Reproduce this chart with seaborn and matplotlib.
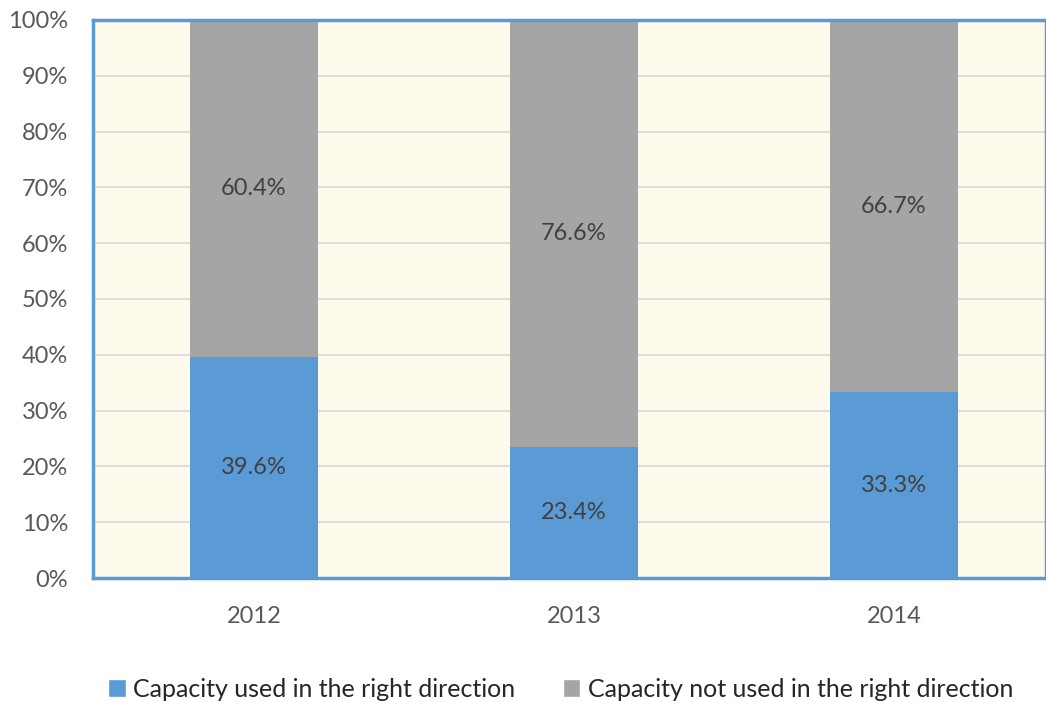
import pandas as pd
import matplotlib.pyplot as plt
import seaborn as sns
import numpy as np
from matplotlib.patches import Patch

# shares of capacity per year (percent)
years = ["2012", "2013", "2014"]
used_right = [39.6, 23.4, 33.3]
not_used_right = [60.4, 76.6, 66.7]

blue = "#5B9BD5"
gray = "#A5A5A5"
cream = "#FFFBEC"

df = pd.DataFrame({"year": years, "used": used_right, "not_used": not_used_right})
df["total"] = df["used"] + df["not_used"]

sns.set_theme(style="white")
plt.rcParams["font.family"] = ["Lato", "DejaVu Sans"]

fig = plt.figure(figsize=(10.46, 7.02), dpi=100)
ax = fig.add_axes([0.089, 0.1766, 0.911, 0.795])
ax.set_facecolor(cream)

# stacked bars: total (gray) underneath, blue part on top of it
sns.barplot(data=df, x="year", y="total", color=gray, width=0.4, saturation=1, linewidth=0, ax=ax, zorder=2)
sns.barplot(data=df, x="year", y="used", color=blue, width=0.4, saturation=1, linewidth=0, ax=ax, zorder=3)

ax.set_xlim(-0.503, 2.475)
ax.set_ylim(0, 100)
ax.set_yticks(np.arange(0, 101, 10))
ax.set_yticklabels([f"{v}%" for v in range(0, 101, 10)])
ax.yaxis.grid(True, color="#D9D9D9", linewidth=1.2, zorder=1)
ax.set_axisbelow(True)
ax.set_xlabel("")
ax.set_ylabel("")
ax.tick_params(axis="both", colors="#595959", labelsize=17, length=0)
ax.tick_params(axis="x", pad=20)
ax.tick_params(axis="y", pad=18)

for sp in ax.spines.values():
    sp.set_visible(True)
    sp.set_color(blue)
    sp.set_linewidth(2.5)

# value labels centered in each segment
for i, (u, n) in enumerate(zip(used_right, not_used_right)):
    ax.text(i, u / 2, f"{u}%", ha="center", va="center", fontsize=17, color="#404040", zorder=4)
    ax.text(i, u + n / 2, f"{n}%", ha="center", va="center", fontsize=17, color="#404040", zorder=4)

handles = [Patch(facecolor=blue, label="Capacity used in the right direction"),
           Patch(facecolor=gray, label="Capacity not used in the right direction")]
fig.legend(handles=handles, loc="lower center", bbox_to_anchor=(0.536, -0.03), ncol=2, frameon=False,
           fontsize=18, handlelength=0.7, handleheight=0.7, handletextpad=0.3, columnspacing=1.9,
           labelcolor="#262626")

fig.savefig("out.png", dpi=100)
